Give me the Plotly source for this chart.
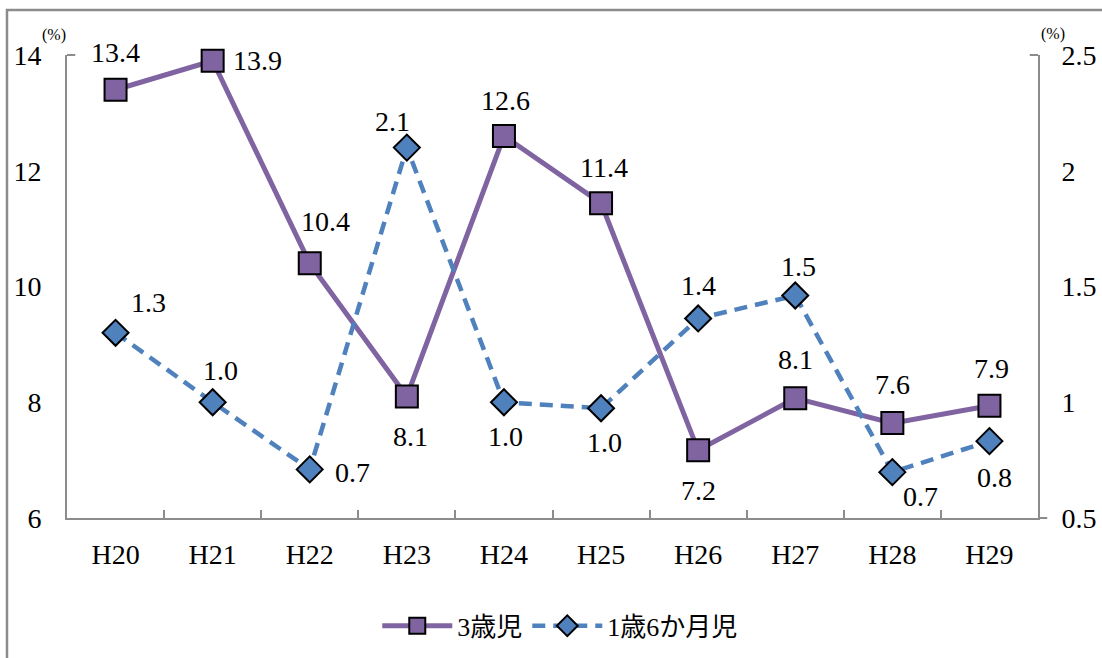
import plotly.graph_objects as go

# ---- data ----
categories = ["H20", "H21", "H22", "H23", "H24", "H25", "H26", "H27", "H28", "H29"]
age3_values = [13.4, 13.9, 10.4, 8.1, 12.6, 11.44, 7.17, 8.07, 7.64, 7.94]
age1_6_values = [1.30, 1.00, 0.71, 2.10, 1.00, 0.974, 1.362, 1.461, 0.698, 0.832]
series_names = ["3歳児", "1歳6か月児"]
left_ticks = [6, 8, 10, 12, 14]
right_ticks = [0.5, 1, 1.5, 2, 2.5]
right_tick_text = ["0.5", "1", "1.5", "2", "2.5"]

# ---- styles ----
PURPLE = "#8064A2"
BLUE = "#4F81BD"
AXIS = "#8C8C8C"
FONT = "'Liberation Serif', 'DejaVu Serif', 'Noto Sans CJK JP', serif"
JFONT = "'Liberation Serif', 'Noto Sans CJK JP', serif"
FS = 28

# label offsets (px) relative to marker centre
age3_off = [(0, -37), (45, 0), (16, -42), (4, 40), (2, -36), (3, -36), (0, 40), (0, -39), (0, -39), (2, -37)]
age1_off = [(33, -30), (8, -32), (43, 3), (-14, -26), (2, 34), (3, 34), (0, -33), (3, -29), (28, 24), (5, 36)]

fig = go.Figure()
fig.add_trace(go.Scatter(
    x=categories, y=age3_values, name=series_names[0], mode="lines+markers",
    line=dict(color=PURPLE, width=5),
    marker=dict(symbol="square", size=22, color=PURPLE, line=dict(color="black", width=2)),
    yaxis="y", cliponaxis=False,
))
fig.add_trace(go.Scatter(
    x=categories, y=age1_6_values, name=series_names[1], mode="lines+markers",
    line=dict(color=BLUE, width=4.5, dash="13px,8px"),
    marker=dict(symbol="diamond", size=20, color=BLUE, line=dict(color="black", width=2)),
    yaxis="y2", cliponaxis=False,
))

annotations = []
for c, v, (dx, dy) in zip(categories, age3_values, age3_off):
    annotations.append(dict(x=c, y=v, xref="x", yref="y", text=f"{v:.1f}", showarrow=False,
                            xshift=dx, yshift=-dy, font=dict(family=FONT, size=FS, color="black")))
for c, v, (dx, dy) in zip(categories, age1_6_values, age1_off):
    annotations.append(dict(x=c, y=v, xref="x", yref="y2", text=f"{v:.1f}", showarrow=False,
                            xshift=dx, yshift=-dy, font=dict(family=FONT, size=FS, color="black")))
# unit labels
annotations.append(dict(x=-0.0134, y=1.043, xref="paper", yref="paper", text="(%)", showarrow=False,
                        xanchor="center", yanchor="middle",
                        font=dict(family=FONT, size=16, color="black")))
annotations.append(dict(x=1.0155, y=1.045, xref="paper", yref="paper", text="(%)", showarrow=False,
                        xanchor="center", yanchor="middle",
                        font=dict(family=FONT, size=16, color="black")))

shapes = [
    # outer frame (cut off at right/bottom)
    dict(type="rect", xref="paper", yref="paper", x0=-0.0618, x1=1.3, y0=-0.6, y1=1.097,
         line=dict(color=AXIS, width=2.5), layer="below"),
    # small corner ticks
    dict(type="line", xref="paper", yref="paper", x0=0, x1=0.0085, y0=1, y1=1, line=dict(color=AXIS, width=2)),
    dict(type="line", xref="paper", yref="paper", x0=0.9915, x1=1, y0=1, y1=1, line=dict(color=AXIS, width=2)),
    dict(type="line", xref="paper", yref="paper", x0=1, x1=1.0095, y0=0, y1=0, line=dict(color=AXIS, width=2)),
]

fig.update_layout(
    width=1102, height=658,
    margin=dict(l=67, r=64, t=55, b=140, autoexpand=False),
    paper_bgcolor="white", plot_bgcolor="white",
    font=dict(family=FONT, size=FS, color="black"),
    showlegend=True,
    legend=dict(orientation="h", x=0.508, xanchor="center", y=-0.233, yanchor="middle",
                font=dict(family=JFONT, size=26, color="black"), itemwidth=70,
                traceorder="normal", bgcolor="rgba(0,0,0,0)"),
    xaxis=dict(type="category", range=[-0.5, len(categories) - 0.5],
               showline=True, linecolor=AXIS, linewidth=2, automargin=False,
               ticks="inside", tickson="boundaries", ticklen=8, tickwidth=1.5, tickcolor=AXIS,
               showgrid=False, zeroline=False, ticklabelstandoff=10,
               tickfont=dict(family=FONT, size=FS)),
    yaxis=dict(range=[6, 14], tickvals=left_ticks, showline=True, linecolor=AXIS, linewidth=2,
               ticks="", showgrid=False, zeroline=False, ticklabelstandoff=18, automargin=False,
               tickfont=dict(family=FONT, size=FS)),
    yaxis2=dict(range=[0.5, 2.5], tickvals=right_ticks, ticktext=right_tick_text, overlaying="y",
                side="right", showline=True, linecolor=AXIS, linewidth=2, ticks="", automargin=False,
                showgrid=False, zeroline=False, ticklabelstandoff=16,
                tickfont=dict(family=FONT, size=FS)),
    annotations=annotations,
    shapes=shapes,
)

fig.write_html("out.html", config={"displayModeBar": False},
               post_script="document.body.style.margin='0';document.body.style.overflow='hidden';")
